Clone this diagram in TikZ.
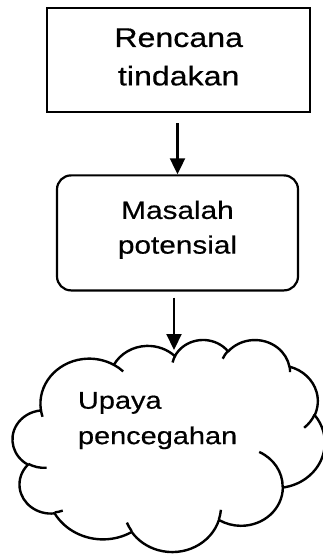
\documentclass[tikz,border=0pt]{standalone}
\usepackage{fontspec}
\setmainfont{Liberation Sans}[FakeStretch=1.19, FakeBold=0.5]
\usetikzlibrary{arrows.meta}

% Ellipse arc given DrawingML style (visual start angle and sweep, in degrees),
% stored as a TikZ arc operation in \<name>.
% #1 name, #2 x radius, #3 y radius, #4 start angle, #5 sweep
\newcommand\mkcloudarc[5]{%
  \pgfmathsetmacro\cldS{#4+Mod(atan2(#2*sin(#4),#3*cos(#4))-(#4)+180,360)-180}%
  \pgfmathsetmacro\cldE{(#4+#5)+Mod(atan2(#2*sin(#4+#5),#3*cos(#4+#5))-(#4+#5)+180,360)-180}%
  \expandafter\xdef\csname #1\endcsname{arc[start angle=\cldS,end angle=\cldE,x radius=#2,y radius=#3]}}

% outline of the cloud
\mkcloudarc{cloudA}{67.53}{91.90}{-190.48748}{123.78053}
\mkcloudarc{cloudB}{53.33}{72.67}{-144.10238}{89.94523}
\mkcloudarc{cloudC}{43.65}{59.45}{-145.80792}{99.72302}
\mkcloudarc{cloudD}{48.57}{65.95}{-130.98607}{117.24173}
\mkcloudarc{cloudE}{53.33}{72.73}{-78.70888}{109.02692}
\mkcloudarc{cloudF}{67.75}{92.20}{-46.26725}{130.269}
\mkcloudarc{cloudG}{57.85}{78.67}{0.62502}{114.03333}
\mkcloudarc{cloudH}{67.52}{92.15}{22.4516}{115.17255}
\mkcloudarc{cloudI}{77.20}{105.43}{66.24263}{75.71102}
\mkcloudarc{cloudJ}{43.60}{59.18}{-274.94208}{146.73557}
\mkcloudarc{cloudK}{43.45}{59.45}{-246.8285}{152.51885}
% short inner strokes between the puffs
\mkcloudarc{cloudinA}{43.45}{59.45}{86.742}{26.4295}
\mkcloudarc{cloudinB}{43.60}{59.18}{73.61047}{11.44747}
\mkcloudarc{cloudinC}{67.52}{92.15}{137.62415}{14.0811}
\mkcloudarc{cloudinD}{67.52}{92.15}{6.45327}{15.99835}
\mkcloudarc{cloudinE}{57.85}{78.67}{-70.29235}{70.91737}
\mkcloudarc{cloudinF}{53.33}{72.73}{30.31803}{27.7515}
\mkcloudarc{cloudinG}{48.57}{65.95}{-13.74433}{14.8589}
\mkcloudarc{cloudinH}{48.57}{65.95}{-149.18145}{18.19537}
\mkcloudarc{cloudinI}{43.65}{59.45}{-163.49427}{17.68635}
\mkcloudarc{cloudinJ}{67.53}{91.90}{-66.70695}{12.31935}
\mkcloudarc{cloudinK}{67.53}{91.90}{157.65435}{11.85817}

\begin{document}
\begin{tikzpicture}[x=1bp, y=-1bp,
  boxline/.style={draw=black, line width=2.2bp, fill=white, inner sep=0pt},
  bigtext/.style={font=\fontsize{27bp}{38.4bp}\selectfont, align=center, inner sep=0pt},
  midtext/.style={font=\fontsize{25bp}{34.7bp}\selectfont, align=center, inner sep=0pt},
  cloudtext/.style={font=\fontsize{24.3bp}{35.4bp}\selectfont, align=left, inner sep=0pt},
  cloudline/.style={draw=black, line width=2.4bp, line join=round},
  flow/.style={draw=black, line width=2.2bp, -{Triangle[length=16bp, width=15bp]}}]

\useasboundingbox[fill=white] (0,0) rectangle (322,554);

% top box
\node[boxline, minimum width=263bp, minimum height=104bp] (plan) at (178.7,60.3) {};
\node[bigtext] (plantext) at (178.7,57) {Rencana\\tindakan};

% rounded box
\node[boxline, rounded corners=14bp, minimum width=241bp, minimum height=115bp]
  (issue) at (177.5,232.9) {};
\node[midtext] (issuetext) at (177.5,229.8) {Masalah\\potensial};

% cloud
\begin{scope}[shift={(12.7,339.3)}, x=0.72222bp, y=-0.49074bp]
  \draw[cloudline, fill=white] (39.00,143.70) \cloudA \cloudB \cloudC \cloudD \cloudE
    \cloudF \cloudG \cloudH \cloudI \cloudJ \cloudK -- cycle;
  \draw[cloudline]
    (46.93,261.77) \cloudinA  (69.28,348.99) \cloudinB
    (164.78,390.90) \cloudinC (288.27,347.51) \cloudinD
    (341.29,229.54) \cloudinE (417.98,153.54) \cloudinF
    (383.24,54.26) \cloudinG  (290.78,39.52) \cloudinH
    (221.41,47.20) \cloudinI  (140.00,51.92) \cloudinJ
    (41.27,157.89) \cloudinK;
\end{scope}
\node[cloudtext, anchor=north west] (prevent) at (77.8,391.8) {Upaya\\pencegahan};

% connectors
\coordinate (cloudtop) at (174,350);
\draw[flow, shorten <=10bp] (issue.north |- plan.south) -- (issue.north);
\draw[flow, shorten <=6bp] (cloudtop |- issue.south) -- (cloudtop);
\end{tikzpicture}
\end{document}
